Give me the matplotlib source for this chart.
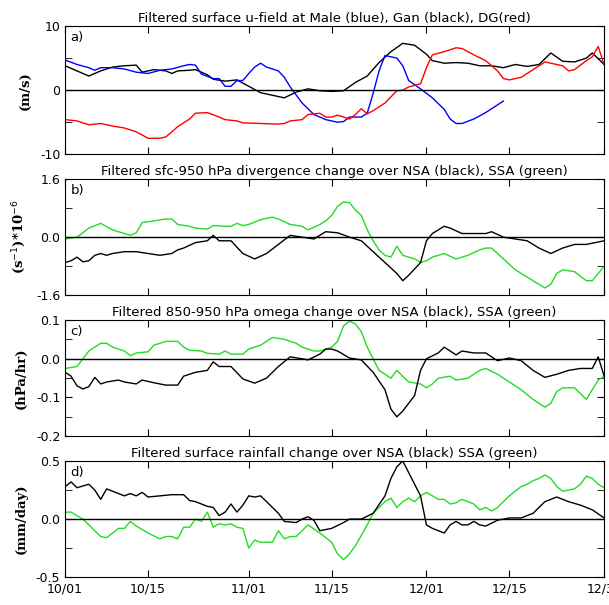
import matplotlib
matplotlib.use("Agg")
import matplotlib.pyplot as plt
from matplotlib.ticker import MultipleLocator, FixedLocator

xticks = [0, 14, 31, 45, 61, 75, 91]
xlabels = ["10/01", "10/15", "11/01", "11/15", "12/01", "12/15", "12/31"]

a_gan_d = [0,2,4,6,8,10,12,13,15,17,18,19,21,22,24,25,27,29,31,33,35,37,39,41,43,45,47,49,51,53,55,57,59,61,62,64,66,68,70,72,74,76,78,80,82,84,86,88,89,91]
a_gan_v = [3.8,3.0,2.2,3.0,3.6,3.8,3.9,2.8,3.2,3.0,2.6,3.0,3.1,3.2,2.4,1.7,1.4,1.6,0.6,-0.4,-0.8,-1.2,-0.3,0.2,-0.1,-0.2,-0.1,1.2,2.2,4.3,6.0,7.3,7.0,5.6,4.6,4.2,4.3,4.2,3.8,3.8,3.5,4.0,3.7,4.0,5.8,4.5,4.4,5.0,5.8,4.0]
a_male_d = [0,2,4,5,6,8,10,12,14,16,18,20,21,22,23,25,26,27,28,29,30,31,32,33,34,36,37,38,40,42,44,46,47,48,50,51,52,53,54,56,57,58,60,62,64,65,66,67,69,71,74]
a_male_v = [4.7,4.0,3.5,3.1,3.5,3.5,3.3,2.8,2.6,3.1,3.3,3.8,4.0,3.9,2.5,1.8,1.8,0.6,0.6,1.5,1.5,2.6,3.6,4.2,3.6,3.0,2.0,0.5,-2.0,-3.8,-4.6,-5.0,-4.9,-4.2,-4.2,-3.6,-0.5,3.0,5.4,5.0,3.8,1.5,0.2,-1.2,-3.0,-4.5,-5.2,-5.2,-4.5,-3.5,-1.7]
a_dg_d = [0,2,4,6,8,10,12,14,16,17,18,19,21,22,24,26,27,29,30,33,36,37,38,40,41,43,44,45,46,47,48,49,50,51,52,53,54,56,57,58,60,61,62,64,66,67,69,71,73,74,75,77,79,81,83,84,85,86,88,89,90,91]
a_dg_v = [-4.6,-4.8,-5.4,-5.2,-5.6,-5.9,-6.5,-7.5,-7.5,-7.3,-6.5,-5.7,-4.5,-3.6,-3.5,-4.2,-4.6,-4.8,-5.1,-5.2,-5.3,-5.2,-4.8,-4.6,-3.8,-3.6,-4.2,-4.2,-3.9,-4.2,-4.5,-3.8,-2.9,-3.7,-3.2,-2.6,-2.0,-0.1,0.0,0.5,1.0,3.5,5.5,6.0,6.6,6.5,5.5,4.6,3.0,1.8,1.6,2.0,3.2,4.4,4.0,3.8,3.0,3.2,4.6,5.2,6.8,4.0]

b_ssa_d = [0,2,4,6,8,10,11,12,13,15,17,18,19,21,22,24,25,27,28,29,30,31,33,34,35,36,38,40,41,43,44,45,46,47,48,49,50,51,52,53,54,55,56,57,58,59,60,61,62,63,64,66,68,70,71,72,74,76,78,80,81,82,83,84,86,88,89,91]
b_ssa_v = [-0.05,0.0,0.25,0.38,0.2,0.1,0.05,0.12,0.4,0.45,0.5,0.5,0.35,0.3,0.25,0.22,0.32,0.3,0.3,0.38,0.32,0.35,0.48,0.52,0.55,0.5,0.35,0.3,0.2,0.35,0.45,0.6,0.85,0.97,0.95,0.75,0.6,0.2,-0.1,-0.35,-0.5,-0.55,-0.25,-0.5,-0.55,-0.6,-0.7,-0.65,-0.55,-0.5,-0.45,-0.6,-0.5,-0.35,-0.3,-0.3,-0.6,-0.9,-1.1,-1.3,-1.4,-1.3,-1.0,-0.9,-0.95,-1.2,-1.2,-0.8]
b_nsa_d = [0,1,2,3,4,5,6,7,8,10,12,14,16,18,19,20,22,24,25,26,28,30,32,34,36,38,40,42,44,46,48,50,52,54,56,57,58,60,61,62,64,65,67,69,71,72,74,76,78,80,82,84,86,88,91]
b_nsa_v = [-0.7,-0.65,-0.55,-0.68,-0.65,-0.5,-0.45,-0.5,-0.45,-0.4,-0.4,-0.45,-0.5,-0.45,-0.35,-0.3,-0.15,-0.1,0.05,-0.1,-0.1,-0.45,-0.6,-0.45,-0.2,0.05,0.0,-0.05,0.15,0.12,0.0,-0.1,-0.4,-0.7,-1.0,-1.2,-1.05,-0.7,-0.1,0.1,0.3,0.25,0.1,0.1,0.1,0.15,0.0,-0.05,-0.1,-0.3,-0.45,-0.3,-0.2,-0.2,-0.1]

c_ssa_d = [0,2,4,6,7,8,10,11,12,14,15,17,19,20,21,23,24,26,27,28,30,31,33,34,35,37,39,40,42,43,45,46,47,48,49,50,51,52,53,55,56,58,60,61,62,63,65,66,68,70,71,73,75,77,79,81,82,83,84,86,88,89,90,91]
c_ssa_v = [-0.025,-0.02,0.02,0.04,0.04,0.03,0.02,0.008,0.015,0.018,0.035,0.045,0.045,0.03,0.022,0.02,0.014,0.012,0.02,0.012,0.012,0.025,0.035,0.045,0.055,0.05,0.04,0.03,0.02,0.02,0.03,0.045,0.085,0.097,0.09,0.07,0.03,0.0,-0.03,-0.05,-0.03,-0.06,-0.065,-0.075,-0.065,-0.05,-0.045,-0.055,-0.05,-0.03,-0.025,-0.04,-0.06,-0.08,-0.105,-0.125,-0.115,-0.085,-0.075,-0.075,-0.105,-0.08,-0.055,-0.045]
c_nsa_d = [0,1,2,3,4,5,6,7,9,10,12,13,15,17,19,20,22,24,25,26,28,30,32,34,36,38,40,41,43,44,45,46,48,50,52,54,55,56,57,59,60,61,63,64,65,66,67,69,71,72,73,75,77,79,81,83,85,87,89,90,91]
c_nsa_v = [-0.035,-0.045,-0.07,-0.078,-0.072,-0.048,-0.065,-0.06,-0.055,-0.06,-0.065,-0.055,-0.062,-0.068,-0.068,-0.045,-0.035,-0.03,-0.008,-0.02,-0.02,-0.052,-0.063,-0.05,-0.02,0.005,0.0,-0.003,0.012,0.025,0.025,0.02,0.002,-0.003,-0.035,-0.08,-0.13,-0.15,-0.135,-0.095,-0.03,0.0,0.015,0.03,0.02,0.01,0.02,0.015,0.015,0.005,-0.005,0.002,-0.005,-0.03,-0.048,-0.04,-0.03,-0.025,-0.025,0.005,-0.045]

d_nsa_d = [0,1,2,4,5,6,7,9,10,11,12,13,14,16,18,20,21,22,24,25,26,27,28,29,30,31,32,33,34,36,37,39,40,41,42,43,45,47,48,50,52,54,55,56,57,58,60,61,62,63,64,65,66,67,68,69,70,71,73,75,77,79,81,83,85,87,89,91]
d_nsa_v = [0.28,0.32,0.27,0.3,0.25,0.17,0.26,0.22,0.2,0.22,0.2,0.23,0.19,0.2,0.21,0.21,0.16,0.15,0.11,0.1,0.03,0.06,0.13,0.06,0.12,0.2,0.19,0.2,0.15,0.05,-0.02,-0.03,0.0,0.02,-0.01,-0.1,-0.08,-0.03,0.0,0.0,0.05,0.2,0.35,0.45,0.5,0.4,0.2,-0.05,-0.08,-0.1,-0.12,-0.05,-0.02,-0.05,-0.05,-0.02,-0.05,-0.06,-0.01,0.01,0.01,0.05,0.15,0.19,0.15,0.12,0.08,0.01]
d_ssa_d = [0,1,3,4,5,6,7,8,9,10,11,12,14,16,17,18,19,20,21,22,23,24,25,26,27,28,29,30,31,32,33,35,36,37,38,39,41,43,45,46,47,48,49,51,52,54,55,56,57,58,59,60,61,62,63,64,65,66,67,69,70,71,72,73,75,76,77,78,79,80,81,82,83,84,86,87,88,89,90,91]
d_ssa_v = [0.06,0.06,0.0,-0.05,-0.1,-0.15,-0.16,-0.12,-0.08,-0.08,-0.02,-0.06,-0.12,-0.17,-0.15,-0.15,-0.17,-0.07,-0.07,0.0,-0.02,0.06,-0.07,-0.04,-0.05,-0.04,-0.07,-0.08,-0.25,-0.18,-0.2,-0.2,-0.1,-0.17,-0.15,-0.15,-0.05,-0.12,-0.2,-0.3,-0.35,-0.3,-0.23,-0.05,0.05,0.15,0.18,0.1,0.15,0.18,0.15,0.2,0.23,0.2,0.17,0.17,0.13,0.14,0.17,0.13,0.08,0.1,0.07,0.1,0.2,0.24,0.28,0.3,0.33,0.35,0.38,0.35,0.28,0.24,0.26,0.3,0.37,0.35,0.3,0.27]

GREEN = "#22dd22"
fig = plt.figure(figsize=(6.09, 6.05), dpi=100)
boxes = [(0.957, 0.745), (0.704, 0.512), (0.471, 0.279), (0.238, 0.046)]
axes = [fig.add_axes([0.107, b, 0.885, t - b]) for t, b in boxes]

panels = [
    ("Filtered surface u-field at Male (blue), Gan (black), DG(red)", "a)", "(m/s)",
     [(a_gan_d, a_gan_v, "black"), (a_male_d, a_male_v, "blue"), (a_dg_d, a_dg_v, "red")],
     (-10, 10), [-10, 0, 10], ["-10", "0", "10"], 5),
    ("Filtered sfc-950 hPa divergence change over NSA (black), SSA (green)", "b)", r"(s$^{-1}$)*10$^{-6}$",
     [(b_ssa_d, b_ssa_v, GREEN), (b_nsa_d, b_nsa_v, "black")],
     (-1.6, 1.6), [-1.6, 0, 1.6], ["-1.6", "0.0", "1.6"], 0.8),
    ("Filtered 850-950 hPa omega change over NSA (black), SSA (green)", "c)", "(hPa/hr)",
     [(c_ssa_d, c_ssa_v, GREEN), (c_nsa_d, c_nsa_v, "black")],
     (-0.2, 0.1), [-0.2, -0.1, 0, 0.1], ["-0.2", "-0.1", "0.0", "0.1"], 0.05),
    ("Filtered surface rainfall change over NSA (black) SSA (green)", "d)", "(mm/day)",
     [(d_ssa_d, d_ssa_v, GREEN), (d_nsa_d, d_nsa_v, "black")],
     (-0.5, 0.5), [-0.5, 0, 0.5], ["-0.5", "0.0", "0.5"], 0.25),
]

for i, (ax, (title, lab, ylab, series, ylim, yt, ytl, minor)) in enumerate(zip(axes, panels)):
    for d, v, c in series:
        ax.plot(d, v, color=c, lw=1.0)
    ax.axhline(0, color="black", lw=1.0)
    ax.set_xlim(0, 91)
    ax.set_ylim(*ylim)
    ax.set_yticks(yt)
    ax.set_yticklabels(ytl, fontsize=9)
    ax.yaxis.set_minor_locator(MultipleLocator(minor))
    ax.set_xticks(xticks)
    if i == 3:
        ax.set_xticklabels(xlabels, fontsize=9)
    else:
        ax.set_xticklabels([])
    ax.tick_params(which="both", direction="in", top=True, right=True, length=5)
    ax.tick_params(axis="x", pad=4)
    ax.set_title(title, fontsize=9.5, pad=3)
    ax.set_ylabel(ylab, fontsize=9.5, fontweight="bold", family="DejaVu Serif", labelpad=6)
    ax.text(0.01, 0.96, lab, transform=ax.transAxes, fontsize=9.5, va="top", ha="left")

fig.savefig("out.png", dpi=100)
